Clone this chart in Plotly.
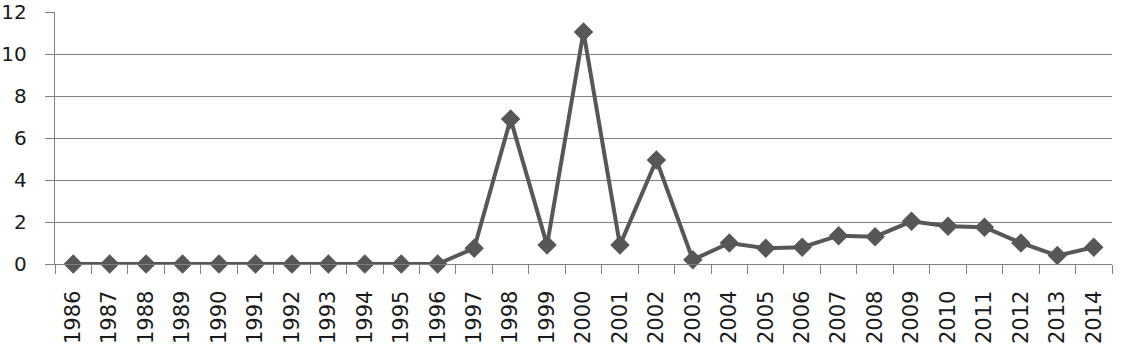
import plotly.graph_objects as go

years = [str(y) for y in range(1986, 2015)]
values = [0, 0, 0, 0, 0, 0, 0, 0, 0, 0, 0,
          0.75, 6.9, 0.9, 11.05, 0.9, 4.95, 0.2, 1.0, 0.75, 0.8,
          1.35, 1.3, 2.03, 1.8, 1.75, 1.0, 0.4, 0.8]
y_ticks = [0, 2, 4, 6, 8, 10, 12]

fig = go.Figure()
fig.add_trace(go.Scatter(
    x=years, y=values, mode="lines+markers",
    line=dict(color="#575757", width=4),
    marker=dict(symbol="diamond", size=15, color="#575757"),
    cliponaxis=False, showlegend=False,
))

fig.update_layout(
    width=1127, height=357,
    margin=dict(l=55, r=15, t=12, b=93, autoexpand=False),
    plot_bgcolor="white", paper_bgcolor="white",
    font=dict(family="DejaVu Sans", size=20, color="#1a1a1a"),
)
fig.update_xaxes(
    type="category", range=[-0.5, len(years) - 0.5], automargin=False,
    tickangle=-90, tickson="boundaries", ticks="outside", ticklen=9,
    tickcolor="#808080", tickwidth=1.4,
    showline=True, linecolor="#808080", linewidth=1.4,
    showgrid=False, tickfont=dict(size=21), ticklabelstandoff=17,
)
fig.update_yaxes(
    range=[0, 12], tickvals=y_ticks, ticks="outside", ticklen=9, automargin=False,
    tickcolor="#808080", tickwidth=1.4,
    showline=True, linecolor="#808080", linewidth=1.4,
    showgrid=True, gridcolor="#808080", gridwidth=1.4,
    zeroline=False, tickfont=dict(size=20), ticklabelstandoff=14,
)

fig.write_html("out.html", config={"displayModeBar": False},
               post_script="document.body.style.margin='0';")
